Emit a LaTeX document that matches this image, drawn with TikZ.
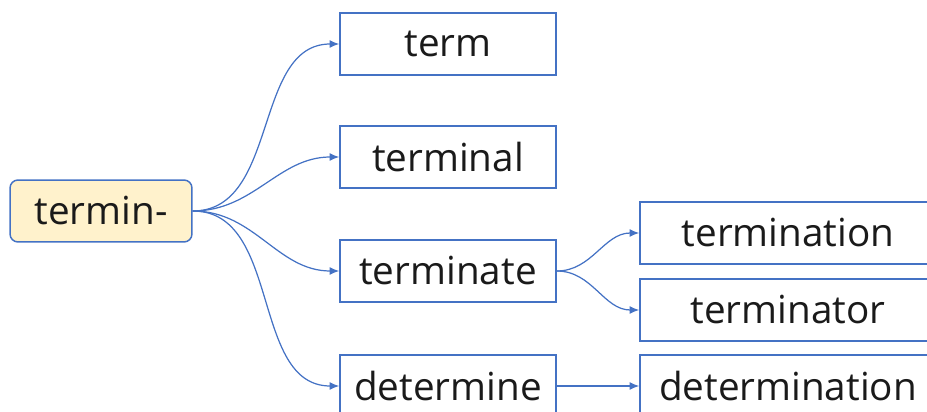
\documentclass[tikz,border=0pt]{standalone}
\usepackage{fontspec}
\setmainfont{Open Sans}
\usepackage{xcolor}
\usetikzlibrary{arrows.meta,positioning}
\definecolor{mapblue}{HTML}{4472C4}
\definecolor{rootfill}{HTML}{FFF2CC}
\definecolor{wordtext}{HTML}{1A1A1A}

\begin{document}
\begin{tikzpicture}[x=0.02cm,y=-0.02cm,
  wordbox/.style={draw=mapblue,line width=0.85pt,fill=white,minimum width=4.32cm,minimum height=1.24cm,inner sep=0pt,text=wordtext,font=\fontsize{22}{26}\selectfont},
  rootbox/.style={wordbox,fill=rootfill,rounded corners=0.16cm,minimum width=3.64cm},
  wide/.style={minimum width=5.92cm},
  link/.style={draw=mapblue,line width=0.7pt,-{Latex[length=5.5pt,width=4.5pt]}}]
  \useasboundingbox (0,0) rectangle (927,412);
  \clip (0,0) rectangle (927,412);
  % root and first level
  \node[rootbox] (root) at (101,211) {termin-};
  \node[wordbox] (term) at (448,44) {term};
  \node[wordbox] (terminal) at (448,157) {terminal};
  \node[wordbox] (terminate) at (448,271) {terminate};
  \node[wordbox] (determine) at (448,386) {determine};
  % second level
  \node[wordbox,wide] (termination) at (788,233) {termination};
  \node[wordbox,wide] (terminator) at (788,310) {terminator};
  \node[wordbox,wide] (determination) at (788,386) {determination};
  % connectors
  \foreach \w in {term,terminal,terminate,determine}{\draw[link] (root.east) to[out=0,in=180] (\w.west);}
  \foreach \w in {termination,terminator}{\draw[link] (terminate.east) to[out=0,in=180] (\w.west);}
  \draw[link] (determine.east) -- (determination.west);
\end{tikzpicture}
\end{document}
